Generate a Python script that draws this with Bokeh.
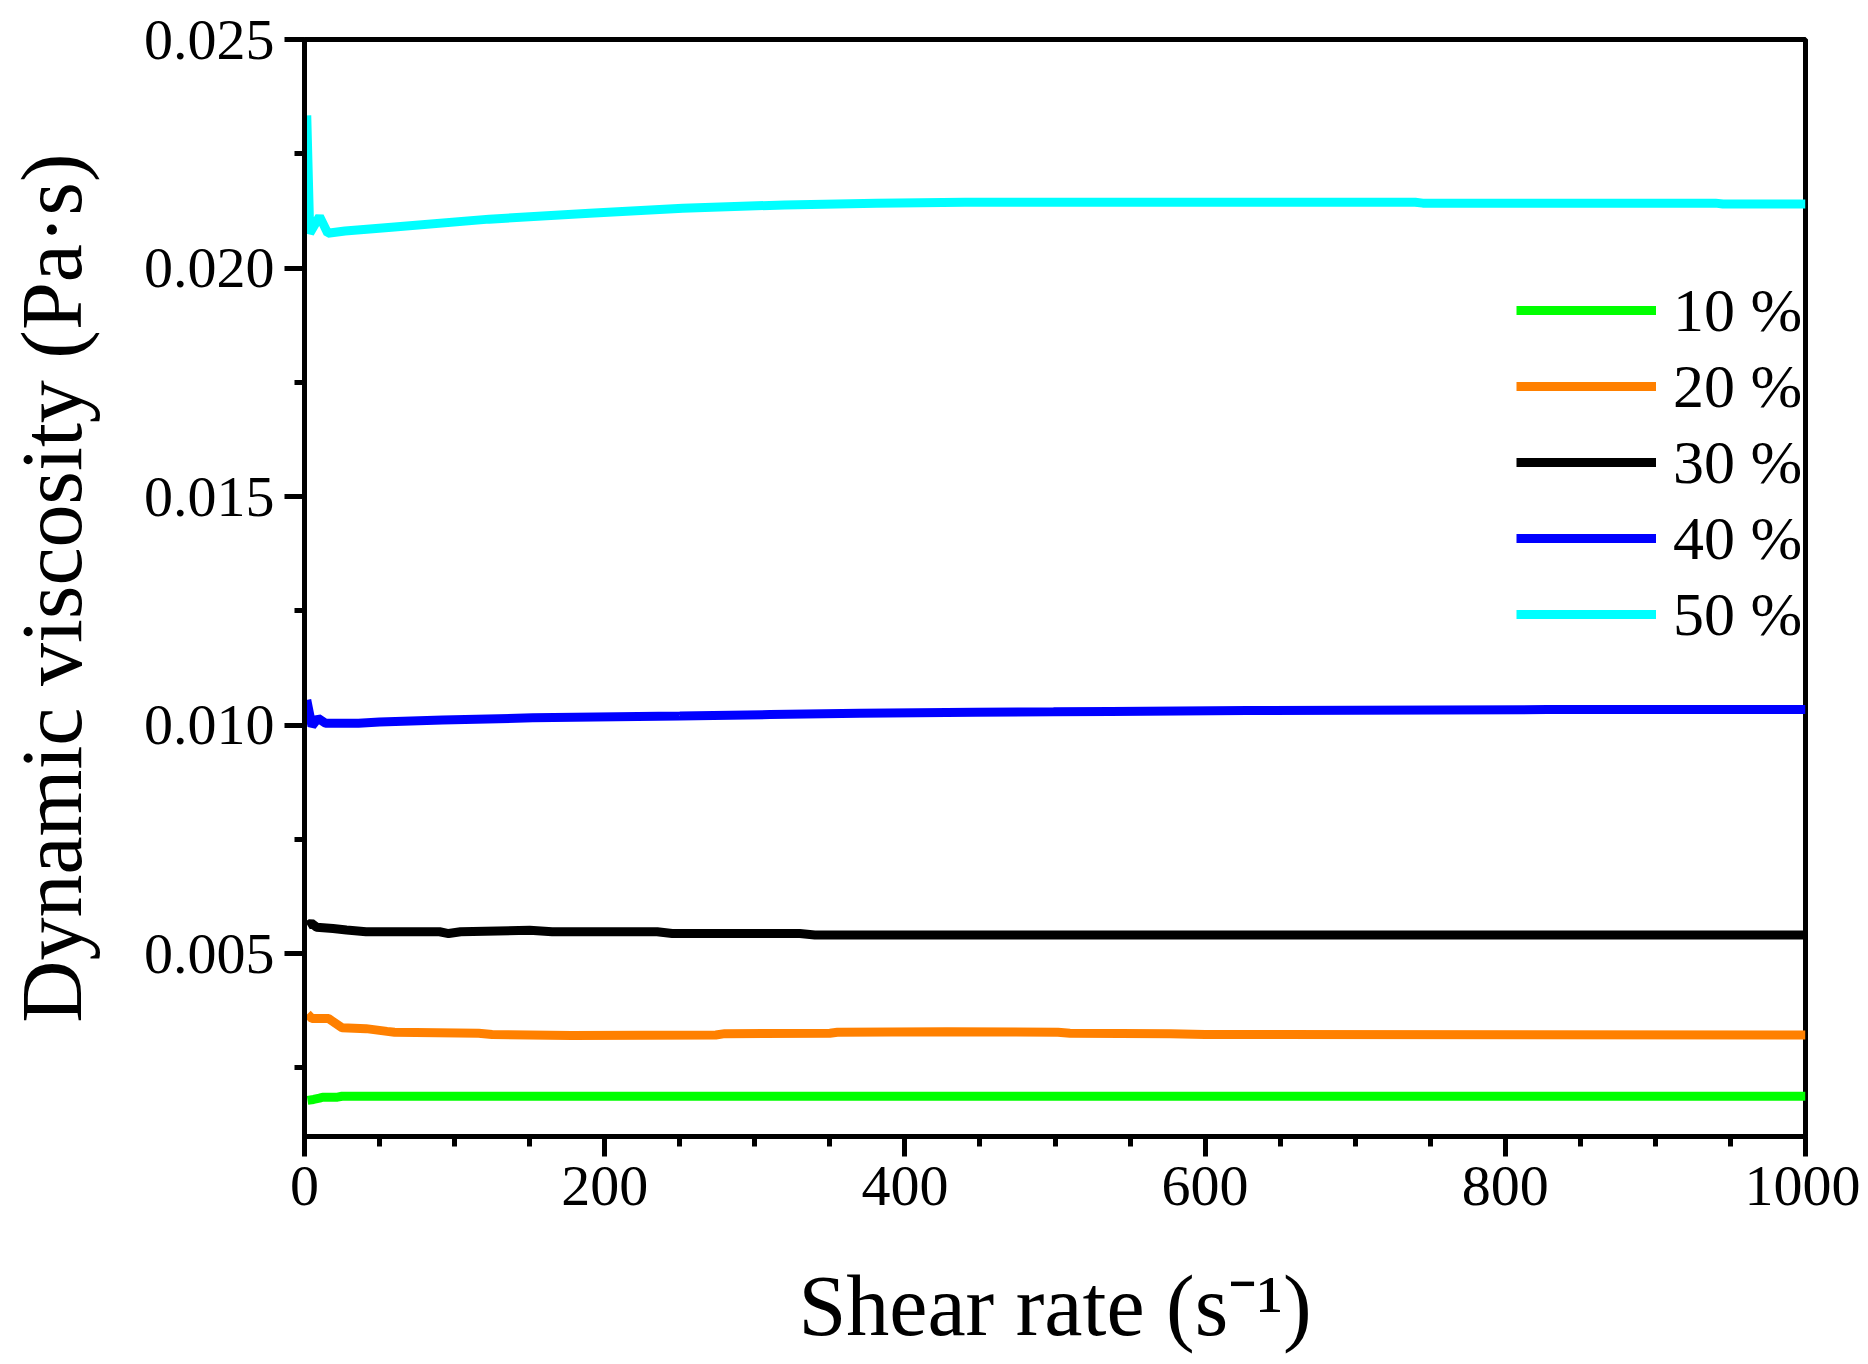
from bokeh.plotting import figure
from bokeh.models import Range1d, SingleIntervalTicker, NumeralTickFormatter, Legend, LegendItem
from bokeh.embed import file_html
from bokeh.resources import INLINE

# Data (shear rate in 1/s, viscosity in Pa·s)
x10 = [2, 6, 10, 12, 22, 25, 1000]
y10 = [0.00179, 0.00181, 0.00184, 0.00186, 0.00186, 0.00188, 0.00188]

x20 = [2, 5, 16, 25, 41, 55, 60, 116, 125, 178, 274, 280, 350, 355, 428, 502, 510, 577, 600, 1000]
y20 = [0.00368, 0.00358, 0.00358, 0.00338, 0.00336, 0.00330, 0.00328, 0.00326, 0.00323, 0.00321,
       0.00322, 0.00325, 0.00326, 0.00328, 0.00329, 0.00328, 0.00326, 0.00325, 0.00323, 0.00322]

x30 = [2, 4.5, 8, 19, 28, 41, 90, 96, 104, 150, 165, 235, 245, 330, 340, 1000]
y30 = [0.00562, 0.00567, 0.00558, 0.00555, 0.00552, 0.00548, 0.00548, 0.00544, 0.00548, 0.00551,
       0.00548, 0.00548, 0.00544, 0.00544, 0.00541, 0.00541]

x40 = [1.5, 5, 9, 14, 36, 50, 92, 152, 250, 310, 370, 447, 499, 537, 628, 828, 1000]
y40 = [0.01055, 0.00998, 0.01015, 0.01004, 0.01004, 0.01007, 0.01011, 0.01016, 0.01020, 0.01023,
       0.01026, 0.01028, 0.01029, 0.01030, 0.01032, 0.01034, 0.01034]

x50 = [1.5, 3.5, 10, 15.5, 27, 60, 123, 190, 252, 320, 381, 440, 499, 740, 745, 940, 945, 1000]
y50 = [0.02334, 0.02076, 0.02113, 0.02076, 0.02081, 0.02090, 0.02107, 0.02120, 0.02131, 0.02138,
       0.02142, 0.02144, 0.02144, 0.02144, 0.02142, 0.02142, 0.02140, 0.02140]

labels = ["10 %", "20 %", "30 %", "40 %", "50 %"]
colors = ["#00FF00", "#FF8000", "#000000", "#0000FF", "#00FFFF"]

FONT = "Liberation Serif"

p = figure(width=1860, height=1356,
           x_range=Range1d(0, 1000), y_range=Range1d(0.001, 0.025),
           output_backend="svg", toolbar_location=None,
           min_border_left=298, min_border_top=39, min_border_right=55, min_border_bottom=218)

p.xgrid.visible = False
p.ygrid.visible = False
p.outline_line_color = "black"
p.outline_line_width = 5
p.outline_line_alpha = 1

# axes
p.xaxis.ticker = SingleIntervalTicker(interval=200, num_minor_ticks=4)
p.yaxis.ticker = SingleIntervalTicker(interval=0.005, num_minor_ticks=2)
p.yaxis.formatter = NumeralTickFormatter(format="0.000")
p.xaxis.axis_label = "Shear rate (s\u207b\u00b9)"
p.yaxis.axis_label = "Dynamic viscosity (Pa\u00b7s)"

for ax in (p.xaxis[0], p.yaxis[0]):
    ax.axis_line_width = 5
    ax.major_tick_line_width = 5
    ax.minor_tick_line_width = 5
    ax.major_tick_out = 20
    ax.major_tick_in = 0
    ax.minor_tick_out = 10
    ax.minor_tick_in = 0
    ax.major_label_text_font = FONT
    ax.major_label_text_font_size = "58px"
    ax.major_label_text_color = "black"
    ax.axis_label_text_font = FONT
    ax.axis_label_text_font_size = "86px"
    ax.axis_label_text_font_style = "normal"
    ax.axis_label_text_color = "black"

p.xaxis.major_label_standoff = 10
p.xaxis.axis_label_standoff = 50
p.yaxis.major_label_standoff = 10
p.yaxis.axis_label_standoff = 41

# lines
items = []
for xs, ys, lab, col in zip([x10, x20, x30, x40, x50], [y10, y20, y30, y40, y50], labels, colors):
    r = p.line(xs, ys, line_color=col, line_width=9)
    items.append(LegendItem(label=lab, renderers=[r]))

legend = Legend(items=items, location=(1212, 484))
legend.border_line_color = None
legend.background_fill_alpha = 0
legend.padding = 0
legend.margin = 0
legend.spacing = 0
legend.glyph_width = 140
legend.glyph_height = 76
legend.label_height = 76
legend.label_standoff = 17
legend.label_text_font = FONT
legend.label_text_font_size = "62px"
legend.label_text_color = "black"
p.add_layout(legend)

open("out.html", "w").write(file_html(p, INLINE))
